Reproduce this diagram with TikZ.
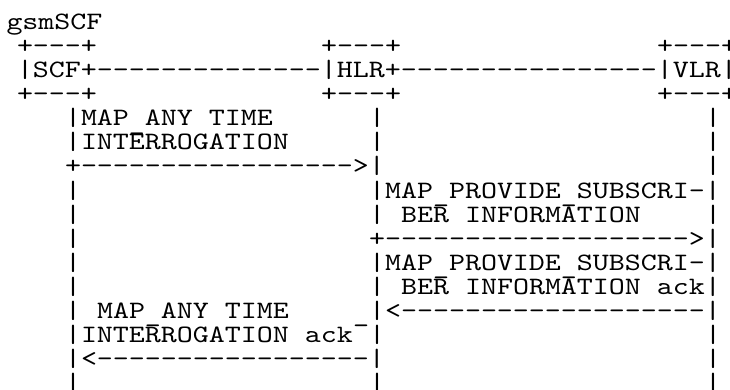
\documentclass[tikz,border=0pt]{standalone}
\usepackage{fontspec}
\setmonofont{lmmono10-regular.otf}[FakeStretch=1.219]
\tikzset{txt/.style={anchor=base west, inner sep=0pt, outer sep=0pt, text=black,
  font=\ttfamily\fontsize{25pt}{24pt}\selectfont}}
% lowered underscore, as the reference draws it
\newcommand\us{\raisebox{-4.5pt}{\_}}
% row, column, text
\newcommand\asc[3]{\node[txt] (r#1c#2) at ({1+16*#2},{-30-24*#1}) {#3};}
\begin{document}
\begin{tikzpicture}[x=1pt,y=1pt]
\fill[white] (0,0) rectangle (730,-390);
\useasboundingbox (0,0) rectangle (730,-390);
\node[txt] (title) at (6.5,-30) {gsmSCF};
\asc{1}{1}{+---+}\asc{1}{20}{+---+}\asc{1}{41}{+---+}
\asc{2}{1}{|SCF+--------------|HLR+----------------|VLR|}
\asc{3}{1}{+---+}\asc{3}{20}{+---+}\asc{3}{41}{+---+}
\asc{4}{4}{|MAP\us ANY TIME}\asc{4}{23}{|}\asc{4}{44}{|}
\asc{5}{4}{|INTERROGATION}\asc{5}{23}{|}\asc{5}{44}{|}
\asc{6}{4}{+----------------->|}\asc{6}{44}{|}
\asc{7}{4}{|}\asc{7}{23}{|MAP\us PROVIDE\us SUBSCRI-|}
\asc{8}{4}{|}\asc{8}{23}{|}\asc{8}{25}{BER INFORMATION}\asc{8}{44}{|}
\asc{9}{4}{|}\asc{9}{23}{+------------------->|}
\asc{10}{4}{|}\asc{10}{23}{|MAP\us PROVIDE\us SUBSCRI-|}
\asc{11}{4}{|}\asc{11}{23}{|}\asc{11}{25}{BER INFORMATION ack|}
\asc{12}{4}{|}\asc{12}{6}{MAP\us ANY TIME}\asc{12}{22}{\us|<-------------------|}
\asc{13}{4}{|INTERROGATION ack}\asc{13}{23}{|}\asc{13}{44}{|}
\asc{14}{4}{|<-----------------|}\asc{14}{44}{|}
\asc{15}{4}{|}\asc{15}{23}{|}\asc{15}{44}{|}
\end{tikzpicture}
\end{document}
